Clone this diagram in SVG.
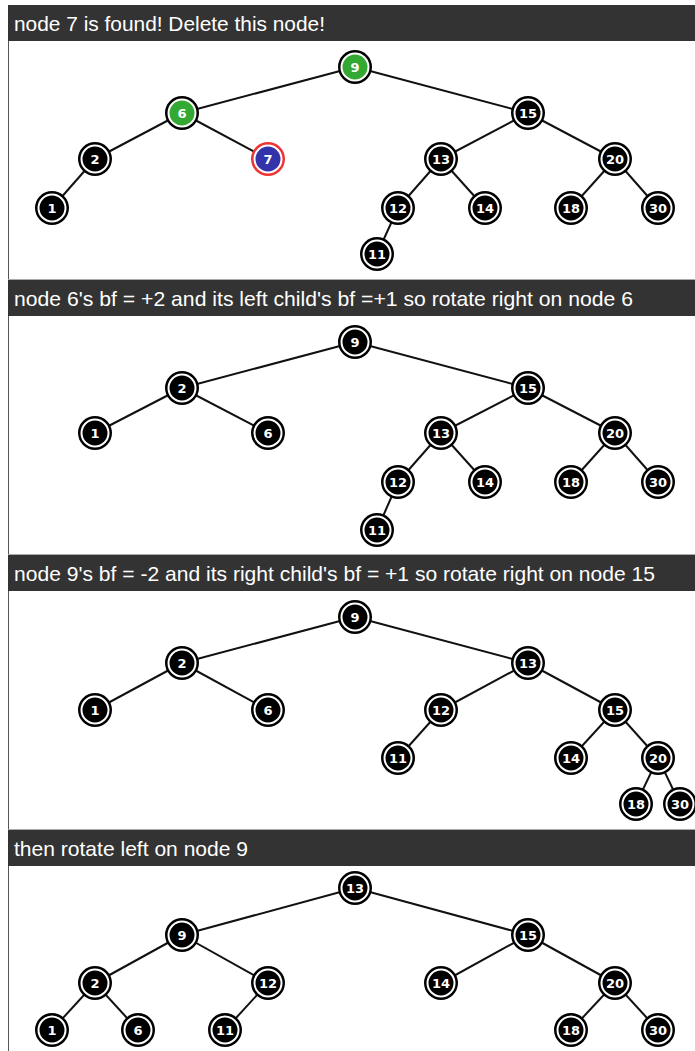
<svg xmlns="http://www.w3.org/2000/svg" width="695" height="1051" viewBox="0 0 695 1051">
<style>
.hdr{fill:#333333}
.ht{fill:#ffffff;font-family:"Liberation Sans",Arial,sans-serif;font-size:21px}
.e line{stroke:#111;stroke-width:2}
.o{fill:#000}
.i{fill:#000;stroke:#fff;stroke-width:2}
.ig{fill:#33a833;stroke:#fff;stroke-width:2}
.ib{fill:#3333aa;stroke:#fff;stroke-width:2}
.or{fill:#ee3333}
.t{fill:#fff;font-family:"DejaVu Sans",Verdana,sans-serif;font-weight:bold;font-size:13px;text-anchor:middle}
</style>
<rect width="695" height="1051" fill="#fff"/>
<line x1="8.5" y1="5" x2="8.5" y2="1051" stroke="#555" stroke-width="1"/>
<g id="headers">
<line x1="8" y1="279.5" x2="695" y2="279.5" stroke="#aaa"/>
<line x1="8" y1="554.5" x2="695" y2="554.5" stroke="#aaa"/>
<line x1="8" y1="829.5" x2="695" y2="829.5" stroke="#aaa"/>
<rect class="hdr" x="8" y="5" width="687" height="36"/>
<rect class="hdr" x="8" y="280" width="687" height="36"/>
<rect class="hdr" x="8" y="555" width="687" height="36"/>
<rect class="hdr" x="8" y="830" width="687" height="36"/>
<text class="ht" x="14" y="31" textLength="311" lengthAdjust="spacingAndGlyphs">node 7 is found! Delete this node!</text>
<text class="ht" x="14" y="306" textLength="619" lengthAdjust="spacingAndGlyphs">node 6's bf = +2 and its left child's bf =+1 so rotate right on node 6</text>
<text class="ht" x="14" y="581" textLength="641" lengthAdjust="spacingAndGlyphs">node 9's bf = -2 and its right child's bf = +1 so rotate right on node 15</text>
<text class="ht" x="14" y="856" textLength="234" lengthAdjust="spacingAndGlyphs">then rotate left on node 9</text>
</g>
<g id="connectors" class="e">
<line x1="355" y1="67" x2="182" y2="113"/>
<line x1="355" y1="67" x2="528" y2="113"/>
<line x1="182" y1="113" x2="95" y2="159"/>
<line x1="182" y1="113" x2="268" y2="159"/>
<line x1="95" y1="159" x2="52" y2="208"/>
<line x1="528" y1="113" x2="441" y2="159"/>
<line x1="528" y1="113" x2="615" y2="159"/>
<line x1="441" y1="159" x2="398" y2="208"/>
<line x1="441" y1="159" x2="485" y2="208"/>
<line x1="615" y1="159" x2="571" y2="208"/>
<line x1="615" y1="159" x2="658" y2="208"/>
<line x1="398" y1="208" x2="377" y2="254"/>

<line x1="355" y1="342" x2="182" y2="388"/>
<line x1="355" y1="342" x2="528" y2="388"/>
<line x1="182" y1="388" x2="95" y2="433"/>
<line x1="182" y1="388" x2="268" y2="433"/>
<line x1="528" y1="388" x2="441" y2="433"/>
<line x1="528" y1="388" x2="615" y2="433"/>
<line x1="441" y1="433" x2="398" y2="482"/>
<line x1="441" y1="433" x2="485" y2="482"/>
<line x1="615" y1="433" x2="571" y2="482"/>
<line x1="615" y1="433" x2="658" y2="482"/>
<line x1="398" y1="482" x2="377" y2="530"/>

<line x1="355" y1="617" x2="182" y2="663"/>
<line x1="355" y1="617" x2="528" y2="663"/>
<line x1="182" y1="663" x2="95" y2="710"/>
<line x1="182" y1="663" x2="268" y2="710"/>
<line x1="528" y1="663" x2="441" y2="710"/>
<line x1="528" y1="663" x2="615" y2="710"/>
<line x1="441" y1="710" x2="398" y2="758"/>
<line x1="615" y1="710" x2="571" y2="758"/>
<line x1="615" y1="710" x2="658" y2="758"/>
<line x1="658" y1="758" x2="636" y2="804"/>
<line x1="658" y1="758" x2="680" y2="804"/>

<line x1="355" y1="888" x2="182" y2="935"/>
<line x1="355" y1="888" x2="528" y2="935"/>
<line x1="182" y1="935" x2="95" y2="983"/>
<line x1="182" y1="935" x2="268" y2="983"/>
<line x1="95" y1="983" x2="52" y2="1030"/>
<line x1="95" y1="983" x2="138" y2="1030"/>
<line x1="268" y1="983" x2="225" y2="1030"/>
<line x1="528" y1="935" x2="441" y2="983"/>
<line x1="528" y1="935" x2="615" y2="983"/>
<line x1="615" y1="983" x2="571" y2="1030"/>
<line x1="615" y1="983" x2="658" y2="1030"/>
</g>
<defs>
<g id="nd"><circle class="o" r="17"/><circle class="i" r="13.5"/></g>
</defs>
<!-- panel 1 -->
<g id="p1n9" transform="translate(355,67)"><circle class="o" r="17"/><circle class="ig" r="13.5"/><text class="t" y="5">9</text></g>
<g id="p1n6" transform="translate(182,113)"><circle class="o" r="17"/><circle class="ig" r="13.5"/><text class="t" y="5">6</text></g>
<g id="p1n7" transform="translate(268,159)"><circle class="or" r="17"/><circle class="ib" r="13.5"/><text class="t" y="5">7</text></g>
<g id="p1n15" transform="translate(528,113)"><use href="#nd"/><text class="t" y="5">15</text></g>
<g id="p1n2" transform="translate(95,159)"><use href="#nd"/><text class="t" y="5">2</text></g>
<g id="p1n13" transform="translate(441,159)"><use href="#nd"/><text class="t" y="5">13</text></g>
<g id="p1n20" transform="translate(615,159)"><use href="#nd"/><text class="t" y="5">20</text></g>
<g id="p1n1" transform="translate(52,208)"><use href="#nd"/><text class="t" y="5">1</text></g>
<g id="p1n12" transform="translate(398,208)"><use href="#nd"/><text class="t" y="5">12</text></g>
<g id="p1n14" transform="translate(485,208)"><use href="#nd"/><text class="t" y="5">14</text></g>
<g id="p1n18" transform="translate(571,208)"><use href="#nd"/><text class="t" y="5">18</text></g>
<g id="p1n30" transform="translate(658,208)"><use href="#nd"/><text class="t" y="5">30</text></g>
<g id="p1n11" transform="translate(377,254)"><use href="#nd"/><text class="t" y="5">11</text></g>
<!-- panel 2 -->
<g id="p2n9" transform="translate(355,342)"><use href="#nd"/><text class="t" y="5">9</text></g>
<g id="p2n2" transform="translate(182,388)"><use href="#nd"/><text class="t" y="5">2</text></g>
<g id="p2n15" transform="translate(528,388)"><use href="#nd"/><text class="t" y="5">15</text></g>
<g id="p2n1" transform="translate(95,433)"><use href="#nd"/><text class="t" y="5">1</text></g>
<g id="p2n6" transform="translate(268,433)"><use href="#nd"/><text class="t" y="5">6</text></g>
<g id="p2n13" transform="translate(441,433)"><use href="#nd"/><text class="t" y="5">13</text></g>
<g id="p2n20" transform="translate(615,433)"><use href="#nd"/><text class="t" y="5">20</text></g>
<g id="p2n12" transform="translate(398,482)"><use href="#nd"/><text class="t" y="5">12</text></g>
<g id="p2n14" transform="translate(485,482)"><use href="#nd"/><text class="t" y="5">14</text></g>
<g id="p2n18" transform="translate(571,482)"><use href="#nd"/><text class="t" y="5">18</text></g>
<g id="p2n30" transform="translate(658,482)"><use href="#nd"/><text class="t" y="5">30</text></g>
<g id="p2n11" transform="translate(377,530)"><use href="#nd"/><text class="t" y="5">11</text></g>
<!-- panel 3 -->
<g id="p3n9" transform="translate(355,617)"><use href="#nd"/><text class="t" y="5">9</text></g>
<g id="p3n2" transform="translate(182,663)"><use href="#nd"/><text class="t" y="5">2</text></g>
<g id="p3n13" transform="translate(528,663)"><use href="#nd"/><text class="t" y="5">13</text></g>
<g id="p3n1" transform="translate(95,710)"><use href="#nd"/><text class="t" y="5">1</text></g>
<g id="p3n6" transform="translate(268,710)"><use href="#nd"/><text class="t" y="5">6</text></g>
<g id="p3n12" transform="translate(441,710)"><use href="#nd"/><text class="t" y="5">12</text></g>
<g id="p3n15" transform="translate(615,710)"><use href="#nd"/><text class="t" y="5">15</text></g>
<g id="p3n11" transform="translate(398,758)"><use href="#nd"/><text class="t" y="5">11</text></g>
<g id="p3n14" transform="translate(571,758)"><use href="#nd"/><text class="t" y="5">14</text></g>
<g id="p3n20" transform="translate(658,758)"><use href="#nd"/><text class="t" y="5">20</text></g>
<g id="p3n18" transform="translate(636,804)"><use href="#nd"/><text class="t" y="5">18</text></g>
<g id="p3n30" transform="translate(680,804)"><use href="#nd"/><text class="t" y="5">30</text></g>
<!-- panel 4 -->
<g id="p4n13" transform="translate(355,888)"><use href="#nd"/><text class="t" y="5">13</text></g>
<g id="p4n9" transform="translate(182,935)"><use href="#nd"/><text class="t" y="5">9</text></g>
<g id="p4n15" transform="translate(528,935)"><use href="#nd"/><text class="t" y="5">15</text></g>
<g id="p4n2" transform="translate(95,983)"><use href="#nd"/><text class="t" y="5">2</text></g>
<g id="p4n12" transform="translate(268,983)"><use href="#nd"/><text class="t" y="5">12</text></g>
<g id="p4n14" transform="translate(441,983)"><use href="#nd"/><text class="t" y="5">14</text></g>
<g id="p4n20" transform="translate(615,983)"><use href="#nd"/><text class="t" y="5">20</text></g>
<g id="p4n1" transform="translate(52,1030)"><use href="#nd"/><text class="t" y="5">1</text></g>
<g id="p4n6" transform="translate(138,1030)"><use href="#nd"/><text class="t" y="5">6</text></g>
<g id="p4n11" transform="translate(225,1030)"><use href="#nd"/><text class="t" y="5">11</text></g>
<g id="p4n18" transform="translate(571,1030)"><use href="#nd"/><text class="t" y="5">18</text></g>
<g id="p4n30" transform="translate(658,1030)"><use href="#nd"/><text class="t" y="5">30</text></g>
</svg>
